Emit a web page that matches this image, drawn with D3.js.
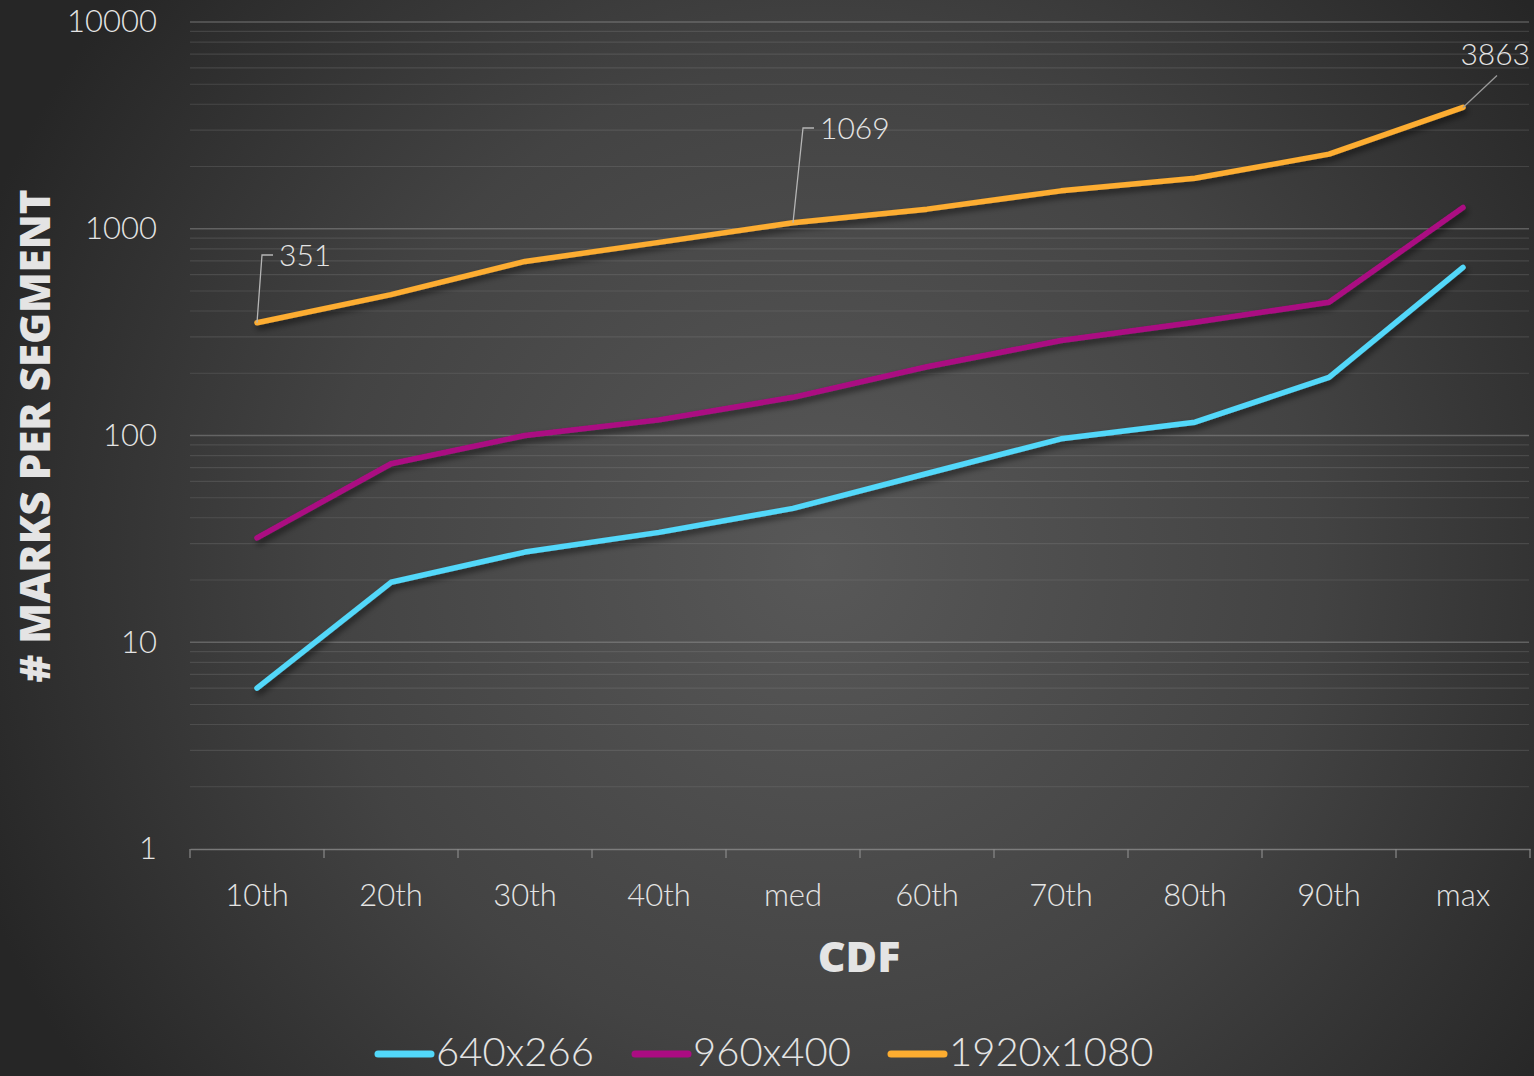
<!DOCTYPE html>
<html>
<head>
<meta charset="utf-8">
<script src="https://cdn.jsdelivr.net/npm/d3@7"></script>
<style>
  html, body { margin: 0; padding: 0; background: #2b2b2b; }
  svg { display: block; }
</style>
</head>
<body>
<svg id="chart" width="1534" height="1076"></svg>
<script>
const categories = ["10th", "20th", "30th", "40th", "med", "60th", "70th", "80th", "90th", "max"];
const seriesNames = ["640x266", "960x400", "1920x1080"];
const values640 = [6, 19.5, 27.3, 34, 44.4, 65.5, 96.4, 116, 191, 650];
const values960 = [32, 73, 100, 119, 153, 215, 288, 353, 441, 1267];
const values1920 = [351, 480, 695, 859, 1069, 1244, 1525, 1754, 2296, 3863];
const seriesColors = ["#52d8fa", "#ab0c82", "#fdad30"];
const yTickValues = [1, 10, 100, 1000, 10000];
const yTickLabels = ["1", "10", "100", "1000", "10000"];
const annotations = [
  { series: 2, index: 0, label: "351" },
  { series: 2, index: 4, label: "1069" },
  { series: 2, index: 9, label: "3863" }
];

const allSeries = [values640, values960, values1920];

const svg = d3.select("#chart");
const W = 1534, H = 1076;
const margin = { left: 190, right: 4, top: 22, bottom: 227 };

const defs = svg.append("defs");
const grad = defs.append("radialGradient")
  .attr("id", "bg").attr("gradientUnits", "userSpaceOnUse")
  .attr("cx", 820).attr("cy", 560).attr("r", 900);
grad.append("stop").attr("offset", "0").attr("stop-color", "#585858");
grad.append("stop").attr("offset", "0.55").attr("stop-color", "#434343");
grad.append("stop").attr("offset", "1").attr("stop-color", "#262626");

const filt = defs.append("filter").attr("id", "shadow")
  .attr("x", "-10%").attr("y", "-10%").attr("width", "120%").attr("height", "130%");
filt.append("feDropShadow").attr("dx", 2).attr("dy", 4).attr("stdDeviation", 3)
  .attr("flood-color", "#000").attr("flood-opacity", 0.55);

svg.append("rect").attr("width", W).attr("height", H).attr("fill", "url(#bg)");

const x = d3.scaleBand().domain(categories).range([margin.left, W - margin.right]);
const y = d3.scaleLog().domain([1, 10000]).range([H - margin.bottom, margin.top]);

// gridlines: minor + major
const minor = [];
for (let d = 1; d < 10000; d *= 10) {
  for (let k = 2; k <= 9; k++) minor.push(d * k);
}
svg.append("g").selectAll("line").data(minor).join("line")
  .attr("x1", margin.left).attr("x2", W - margin.right - 1)
  .attr("y1", d => y(d)).attr("y2", d => y(d))
  .attr("stroke", "#8a8a8a").attr("stroke-opacity", 0.25).attr("stroke-width", 1.2);
svg.append("g").selectAll("line").data(yTickValues.slice(1)).join("line")
  .attr("x1", margin.left).attr("x2", W - margin.right - 1)
  .attr("y1", d => y(d)).attr("y2", d => y(d))
  .attr("stroke", "#9a9a9a").attr("stroke-opacity", 0.45).attr("stroke-width", 1.5);

const fontLight = "Lato, 'Open Sans', sans-serif";
const textColor = "#e4e4e4";

// y axis
const yAxis = d3.axisLeft(y).tickValues(yTickValues)
  .tickFormat((d, i) => yTickLabels[i]).tickSize(0).tickPadding(33);
const gy = svg.append("g").attr("transform", `translate(${margin.left},0)`).call(yAxis);
gy.select(".domain").remove();
gy.selectAll("text").attr("fill", textColor).attr("font-family", fontLight)
  .attr("font-weight", 300).attr("font-size", 31).attr("dy", "0.32em");

// x axis
const xAxis = d3.axisBottom(x).tickSize(0).tickPadding(35);
const gx = svg.append("g").attr("transform", `translate(0,${H - margin.bottom})`).call(xAxis);
gx.select(".domain").attr("stroke", "#8a8a8a").attr("stroke-width", 1.5).attr("stroke-opacity", 0.8);
gx.selectAll("text").attr("fill", textColor).attr("font-family", fontLight)
  .attr("font-weight", 300).attr("font-size", 31);
// band-edge tick marks
const edges = categories.map(c => x(c)).concat([x(categories[categories.length - 1]) + x.bandwidth()]);
svg.append("g").selectAll("line").data(edges).join("line")
  .attr("x1", d => d).attr("x2", d => d)
  .attr("y1", H - margin.bottom).attr("y2", H - margin.bottom + 9)
  .attr("stroke", "#8a8a8a").attr("stroke-width", 1.5).attr("stroke-opacity", 0.8);

// axis titles
svg.append("text").attr("transform", "translate(50,436) rotate(-90)")
  .attr("text-anchor", "middle").attr("fill", textColor)
  .attr("font-family", "'Open Sans', sans-serif").attr("font-weight", 800)
  .attr("font-size", 42).text("# MARKS PER SEGMENT");
svg.append("text").attr("x", 859).attr("y", 972)
  .attr("text-anchor", "middle").attr("fill", textColor)
  .attr("font-family", "'Open Sans', sans-serif").attr("font-weight", 800)
  .attr("font-size", 43).text("CDF");

// lines
const line = d3.line()
  .x((d, i) => x(categories[i]) + x.bandwidth() / 2)
  .y(d => y(d));
svg.append("g").attr("filter", "url(#shadow)").selectAll("path").data(allSeries).join("path")
  .attr("d", d => line(d)).attr("fill", "none")
  .attr("stroke", (d, i) => seriesColors[i]).attr("stroke-width", 5.5)
  .attr("stroke-linecap", "round").attr("stroke-linejoin", "round");

// annotations
const px = a => x(categories[a.index]) + x.bandwidth() / 2;
const py = a => y(allSeries[a.series][a.index]);
const ag = svg.append("g");
annotations.forEach((a, k) => {
  const X0 = px(a), Y0 = py(a);
  if (k < 2) {
    const lx = X0 + (k === 0 ? 5 : 10), ly = k === 0 ? 255 : 128;
    ag.append("path").attr("d", `M${X0},${Y0} L${lx},${ly} L${lx + 11},${ly}`)
      .attr("fill", "none").attr("stroke", "#b5b5b5").attr("stroke-width", 1.3);
    ag.append("text").attr("x", lx + 17).attr("y", ly).attr("dy", "0.35em")
      .attr("fill", textColor).attr("font-family", fontLight).attr("font-weight", 300)
      .attr("font-size", 30).text(a.label);
  } else {
    ag.append("path").attr("d", `M${X0},${Y0} L${X0 + 34},${Y0 - 32}`)
      .attr("fill", "none").attr("stroke", "#9a9a9a").attr("stroke-width", 1.3);
    ag.append("text").attr("x", 1530).attr("y", 54).attr("dy", "0.35em")
      .attr("text-anchor", "end")
      .attr("fill", textColor).attr("font-family", fontLight).attr("font-weight", 300)
      .attr("font-size", 30).text(a.label);
  }
});

// legend
const legendX = [378, 635, 891];
const lg = svg.append("g");
seriesNames.forEach((n, i) => {
  lg.append("line").attr("x1", legendX[i]).attr("x2", legendX[i] + 53)
    .attr("y1", 1054).attr("y2", 1054)
    .attr("stroke", seriesColors[i]).attr("stroke-width", 7).attr("stroke-linecap", "round");
  lg.append("text").attr("x", legendX[i] + 58).attr("y", 1066)
    .attr("fill", textColor).attr("font-family", fontLight).attr("font-weight", 300)
    .attr("font-size", 40).text(n);
});
</script>
</body>
</html>
